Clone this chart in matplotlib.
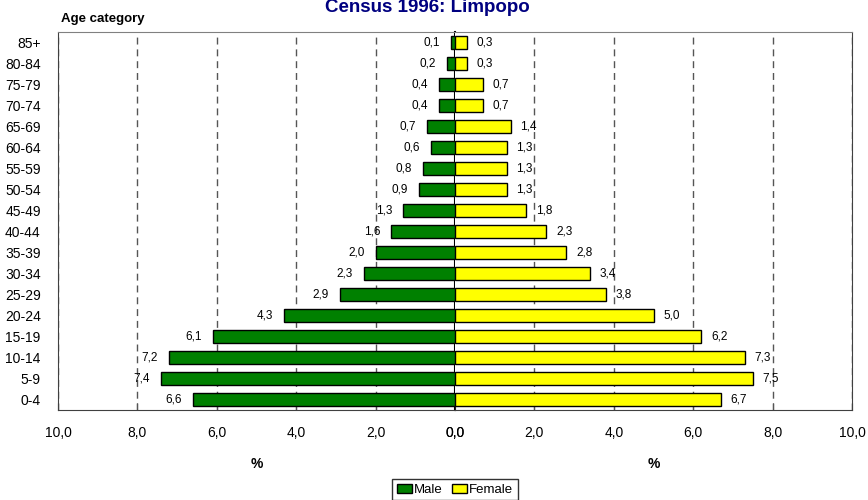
import numpy as np
import matplotlib
matplotlib.use('agg')
import matplotlib.pyplot as plt

plt.rcParams['font.family'] = ['Liberation Sans Narrow', 'Liberation Sans', 'DejaVu Sans']

# data (percent of population)
ages = ['0-4', '5-9', '10-14', '15-19', '20-24', '25-29', '30-34', '35-39', '40-44',
        '45-49', '50-54', '55-59', '60-64', '65-69', '70-74', '75-79', '80-84', '85+']
male = [6.6, 7.4, 7.2, 6.1, 4.3, 2.9, 2.3, 2.0, 1.6, 1.3, 0.9, 0.8, 0.6, 0.7, 0.4, 0.4, 0.2, 0.1]
female = [6.7, 7.5, 7.3, 6.2, 5.0, 3.8, 3.4, 2.8, 2.3, 1.8, 1.3, 1.3, 1.3, 1.4, 0.7, 0.7, 0.3, 0.3]
xticks = [0, 2, 4, 6, 8, 10]

def fmt(v):
    return '{:.1f}'.format(v).replace('.', ',')

fig = plt.figure(figsize=(8.68, 5), dpi=100)
axl = fig.add_axes([58/868, 90/500, 397/868, 378/500])
axr = fig.add_axes([455/868, 90/500, 397/868, 378/500])

y = np.arange(len(ages))
green = '#008000'
yellow = '#ffff00'

for ax, vals, col, off in [(axl, male, green, -14), (axr, female, yellow, 13)]:
    ax.set_axisbelow(True)
    ax.barh(y, vals, height=0.62, color=col, edgecolor='black', linewidth=1, zorder=3)
    for yi, v in zip(y, vals):
        ax.annotate(fmt(v), (v, yi), xytext=(off, 0), textcoords='offset points',
                    ha='center', va='center', fontsize=8.5)
    ax.set_xlim(0, 10)
    ax.set_ylim(-0.5, len(ages) - 0.5)
    ax.set_xticks(xticks)
    ax.set_xticklabels([fmt(t) for t in xticks], fontsize=10)
    ax.tick_params(axis='x', direction='in', length=5, pad=11.5, color='#202020')
    for t in xticks[1:]:
        ax.axvline(t, color='#555555', linewidth=1, dashes=(5, 3.5), zorder=1)
    ax.set_xlabel('%', fontsize=10, fontweight='bold', labelpad=12)
    for s in ax.spines.values():
        s.set_color('#404040')
    ax.spines['top'].set_color('#808080')

axl.invert_xaxis()
axl.set_yticks(y)
axl.set_yticklabels(ages, fontsize=10)
axl.tick_params(axis='y', length=0, pad=12.5)
axl.spines['right'].set_color('black')
axl.spines['right'].set_linewidth(1.5)
axr.set_yticks([])
axr.spines['left'].set_visible(False)

fig.text(427/868, 1 - 12/500, 'Census 1996: Limpopo', ha='center', va='baseline',
         fontsize=13.5, fontweight='bold', color='#000080',
         family=['Liberation Sans', 'DejaVu Sans'])
fig.text(61/868, 1 - 22/500, 'Age category', ha='left', va='baseline',
         fontsize=9.5, fontweight='bold')

handles = [plt.Rectangle((0, 0), 1, 1, facecolor=green, edgecolor='black'),
           plt.Rectangle((0, 0), 1, 1, facecolor=yellow, edgecolor='black')]
leg = fig.legend(handles, ['Male', 'Female'], loc='upper center',
                 bbox_to_anchor=(455/868, 1 - 479/500), ncol=2, fontsize=9.5,
                 frameon=True, fancybox=False, edgecolor='black', handlelength=1.15,
                 handleheight=0.7, handletextpad=0.15, columnspacing=0.7,
                 borderpad=0.35, borderaxespad=0)
leg.get_frame().set_linewidth(1)

fig.savefig('out.png', dpi=100)
